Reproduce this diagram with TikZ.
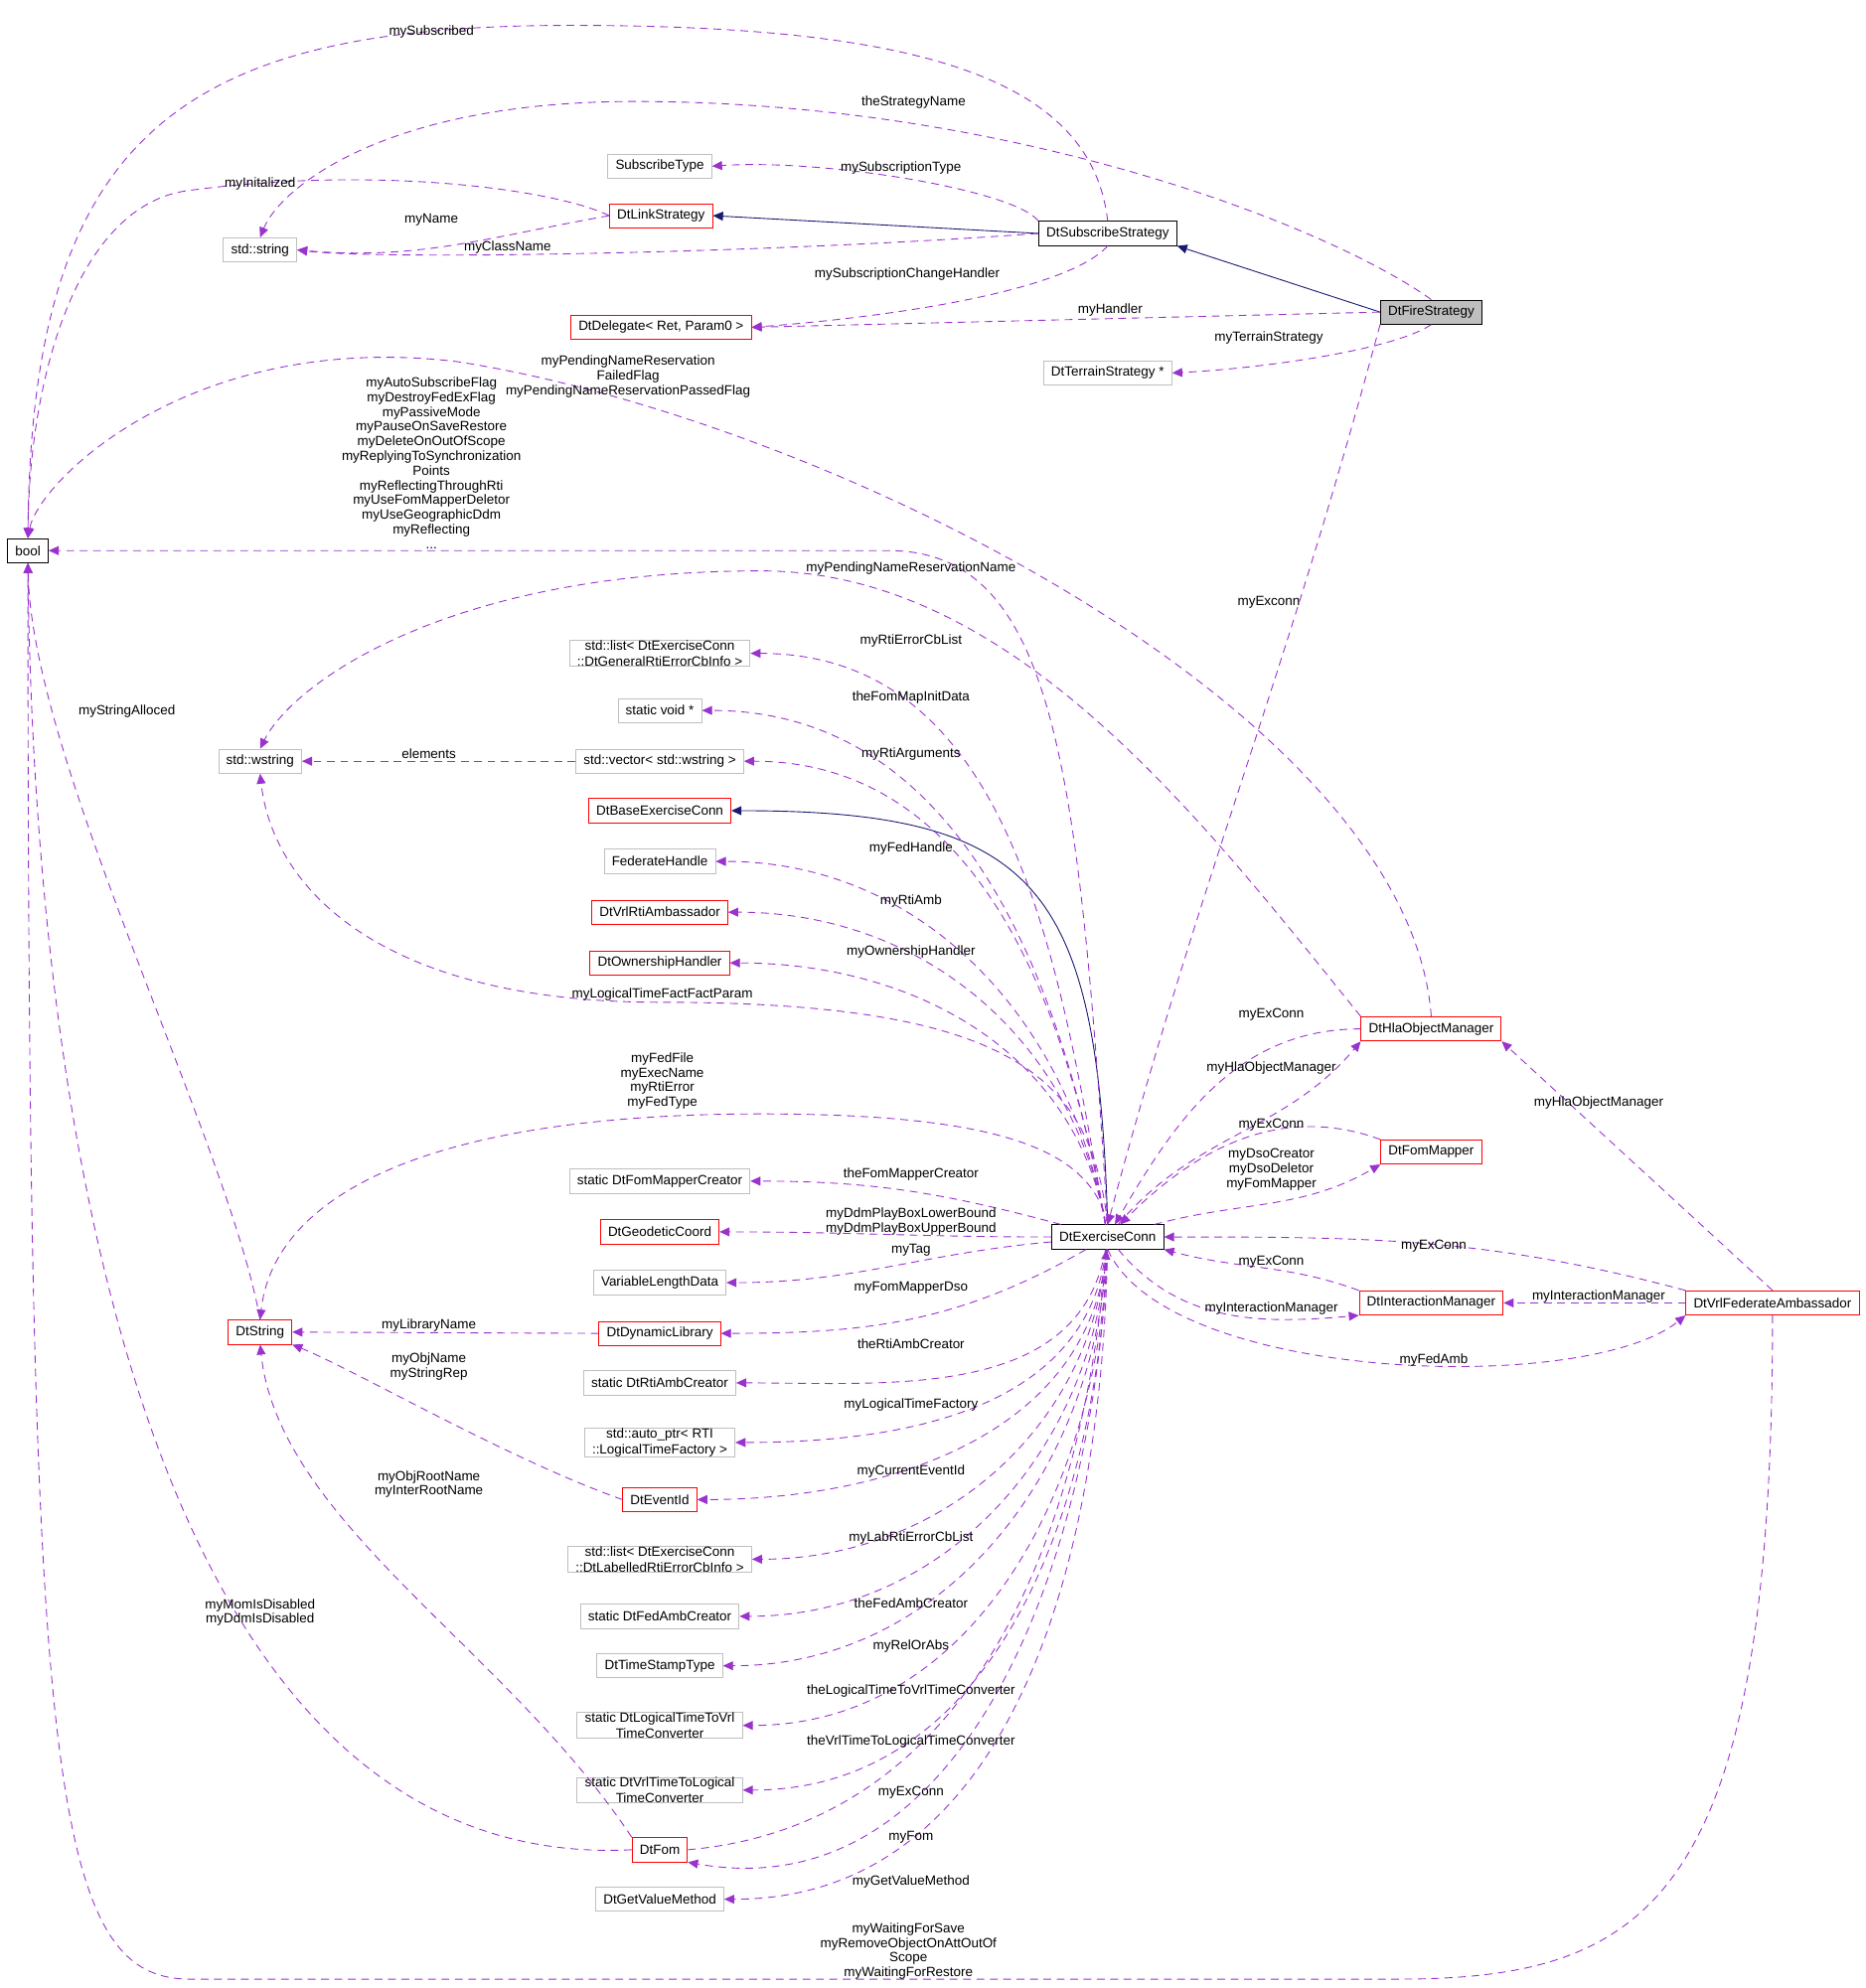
\documentclass[tikz,border=0pt]{standalone}
\usepackage{fontspec}
\setmainfont{Liberation Sans}
\usetikzlibrary{arrows.meta}
\definecolor{dep}{HTML}{9A32CD}
\definecolor{inhc}{HTML}{191970}
\definecolor{grayb}{HTML}{BFBFBF}
\tikzset{
    cls/.style={draw=black, font=\fontsize{6}{7}\selectfont, inner xsep=0.12cm, inner ysep=0pt, minimum height=0.38cm, align=center},
    red/.style={cls, draw=red},
    ext/.style={cls, draw=grayb},
    lbl/.style={font=\fontsize{6}{6.6}\selectfont, align=center, inner sep=0pt},
    dep/.style={draw=dep, dashed, dash pattern=on 3.5pt off 2.5pt, -{Triangle[length=4.5pt,width=4pt]}},
    inh/.style={draw=inhc, -{Triangle[length=4.5pt,width=4pt]}}
}
\begin{document}
\begin{tikzpicture}[x=0.02cm, y=0.02cm]
    \useasboundingbox (0,0) rectangle (1470,-1567);

    % classes
    \node[cls] (bool) at (22,-434) {bool};
    \node[ext] (str) at (205,-197) {std::string};
    \node[ext] (st) at (520,-131) {SubscribeType};
    \node[red] (ls) at (521,-170) {DtLinkStrategy};
    \node[cls] (ss) at (873,-184) {DtSubscribeStrategy};
    \node[cls, fill=grayb] (fire) at (1128,-246) {DtFireStrategy};
    \node[red] (dg) at (521,-258) {DtDelegate< Ret, Param0 >};
    \node[ext] (ts2) at (873,-294) {DtTerrainStrategy *};
    \node[ext] (gl) at (520,-515) {std::list< DtExerciseConn\\::DtGeneralRtiErrorCbInfo >};
    \node[ext] (sv) at (520,-560) {static void *};
    \node[ext] (ws) at (205,-600) {std::wstring};
    \node[ext] (vec) at (520,-600) {std::vector< std::wstring >};
    \node[red] (base) at (520,-639) {DtBaseExerciseConn};
    \node[ext] (fh) at (520,-679) {FederateHandle};
    \node[red] (ra) at (520,-719) {DtVrlRtiAmbassador};
    \node[red] (own) at (520,-759) {DtOwnershipHandler};
    \node[red] (hom) at (1128,-811) {DtHlaObjectManager};
    \node[red] (fm) at (1128,-908) {DtFomMapper};
    \node[ext] (fmc) at (520,-931) {static DtFomMapperCreator};
    \node[red] (geo) at (520,-971) {DtGeodeticCoord};
    \node[cls] (ec) at (873,-975) {DtExerciseConn};
    \node[ext] (tag) at (520,-1011) {VariableLengthData};
    \node[red] (dtstr) at (205,-1050) {DtString};
    \node[red] (dl) at (520,-1051) {DtDynamicLibrary};
    \node[red] (im) at (1128,-1027) {DtInteractionManager};
    \node[red] (vfa) at (1397,-1027) {DtVrlFederateAmbassador};
    \node[ext] (rac) at (520,-1090) {static DtRtiAmbCreator};
    \node[ext] (ap) at (520,-1137) {std::auto\_ptr< RTI\\::LogicalTimeFactory >};
    \node[red] (ev) at (520,-1182) {DtEventId};
    \node[ext] (ll) at (520,-1229) {std::list< DtExerciseConn\\::DtLabelledRtiErrorCbInfo >};
    \node[ext] (fac) at (520,-1274) {static DtFedAmbCreator};
    \node[ext] (tst) at (520,-1313) {DtTimeStampType};
    \node[ext] (l2v) at (520,-1360) {static DtLogicalTimeToVrl\\TimeConverter};
    \node[ext] (v2l) at (520,-1411) {static DtVrlTimeToLogical\\TimeConverter};
    \node[red] (fom) at (520,-1458) {DtFom};
    \node[ext] (gvm) at (520,-1497) {DtGetValueMethod};

    % inheritance
    \draw[inh] (ss.west) -- (ls.east);
    \draw[inh] (fire.west) -- (ss.south east);
    \draw[inh] (ec.north) .. controls (865,-700) and (820,-639) .. (base.east);

    % upper part
    \draw[dep] (ss.north) .. controls (860,-60) and (720,-20) .. (450,-20) .. controls (150,-20) and (25,-100) .. (bool.north);
    \draw[dep] (fire.north) .. controls (1050,-180) and (800,-80) .. (500,-80) .. controls (300,-80) and (220,-150) .. (str.north);
    \draw[dep] (ss.north west) .. controls (800,-150) and (650,-125) .. (st.east);
    \draw[dep] (ls.west) .. controls (440,-150) and (300,-130) .. (150,-150) .. controls (60,-160) and (23,-300) .. (bool.north);
    \draw[dep] (ls.west) to[out=190,in=-5] (str.east);
    \draw[dep] (ss.west) .. controls (600,-200) and (300,-205) .. (str.east);
    \draw[dep] (ss.south) .. controls (840,-230) and (700,-250) .. (dg.east);
    \draw[dep] (fire.west) -- (dg.east);
    \draw[dep] (fire.south) .. controls (1100,-275) and (1000,-290) .. (ts2.east);
    \draw[dep] (fire.south west) to[out=-105,in=75] (ec.north);
    \draw[dep] (hom.north) .. controls (1110,-560) and (650,-330) .. (360,-285) .. controls (150,-260) and (30,-380) .. (bool.north);
    \draw[dep] (hom.north west) .. controls (950,-650) and (800,-450) .. (600,-450) .. controls (350,-450) and (230,-540) .. (ws.north);
    \draw[dep] (ec.north) .. controls (850,-600) and (830,-434) .. (700,-434) -- (bool.east);
    \draw[dep] (ec.north) .. controls (860,-850) and (800,-790) .. (520,-790) .. controls (300,-790) and (215,-700) .. (ws.south);
    \draw[dep] (ec.north) .. controls (860,-910) and (800,-878) .. (600,-878) .. controls (320,-878) and (215,-950) .. (dtstr.north);
    \draw[dep] (vec.west) -- (ws.east);

    % fan out of DtExerciseConn
    \foreach \t/\o in {gl/100, sv/100, vec/100, fh/100, ra/100, own/100, fmc/165, geo/180, tag/-175,
                       dl/-150, rac/-100, ap/-97, ev/-95, ll/-95, fac/-94, tst/-93, l2v/-92, v2l/-92, gvm/-91}
        \draw[dep] (ec) to[out=\o,in=0] (\t.east);
    \draw[dep] (fom.east) to[out=5,in=-95] (ec);
    \draw[dep] (ec) to[out=-92,in=-10] (fom.south east);

    % DtString and bool
    \draw[dep] (dtstr.north) .. controls (180,-900) and (25,-600) .. (bool.south);
    \draw[dep] (dl.west) -- (dtstr.east);
    \draw[dep] (ev.west) .. controls (400,-1150) and (280,-1080) .. (dtstr.south east);
    \draw[dep] (fom.north west) .. controls (400,-1300) and (220,-1200) .. (dtstr.south);
    \draw[dep] (fom.west) .. controls (60,-1480) and (25,-700) .. (bool.south);
    \draw[dep] (vfa.south) .. controls (1397,-1500) and (1300,-1560) .. (1100,-1560) -- (150,-1560) .. controls (40,-1560) and (22,-1400) .. (bool.south);

    % right part
    \draw[dep] (hom.west) to[out=180,in=60] (ec);
    \draw[dep] (ec) to[out=50,in=-130] (hom.south west);
    \draw[dep] (fm.north west) to[out=160,in=45] (ec);
    \draw[dep] (ec) to[out=15,in=-150] (fm.south west);
    \draw[dep] (vfa.north) -- (hom.south east);
    \draw[dep] (vfa.north west) to[out=165,in=0] (ec.east);
    \draw[dep] (im.north west) to[out=160,in=-15] (ec.south east);
    \draw[dep] (ec) to[out=-50,in=185] (im.south west);
    \draw[dep] (vfa.west) -- (im.east);
    \draw[dep] (ec.south) .. controls (920,-1090) and (1250,-1100) .. (vfa.south west);

    % labels
    \node[lbl] (l1) at (340,-25) {mySubscribed};
    \node[lbl] (l2) at (720,-81) {theStrategyName};
    \node[lbl] (l3) at (710,-132) {mySubscriptionType};
    \node[lbl] (l4) at (205,-145) {myInitalized};
    \node[lbl] (l5) at (340,-173) {myName};
    \node[lbl] (l6) at (400,-195) {myClassName};
    \node[lbl] (l7) at (715,-216) {mySubscriptionChangeHandler};
    \node[lbl] (l8) at (875,-244) {myHandler};
    \node[lbl] (l9) at (1000,-266) {myTerrainStrategy};
    \node[lbl] (l10) at (1000,-475) {myExconn};
    \node[lbl] (l11) at (495,-297) {myPendingNameReservation\\FailedFlag\\myPendingNameReservationPassedFlag};
    \node[lbl] (l12) at (340,-365) {myAutoSubscribeFlag\\myDestroyFedExFlag\\myPassiveMode\\myPauseOnSaveRestore\\myDeleteOnOutOfScope\\myReplyingToSynchronization\\Points\\myReflectingThroughRti\\myUseFomMapperDeletor\\myUseGeographicDdm\\myReflecting\\...};
    \node[lbl] (l13) at (718,-448) {myPendingNameReservationName};
    \node[lbl] (l14) at (718,-505) {myRtiErrorCbList};
    \node[lbl] (l15) at (718,-550) {theFomMapInitData};
    \node[lbl] (l16) at (718,-594) {myRtiArguments};
    \node[lbl] (l17) at (338,-594) {elements};
    \node[lbl] (l18) at (100,-561) {myStringAlloced};
    \node[lbl] (l19) at (718,-669) {myFedHandle};
    \node[lbl] (l20) at (718,-710) {myRtiAmb};
    \node[lbl] (l21) at (718,-750) {myOwnershipHandler};
    \node[lbl] (l22) at (522,-784) {myLogicalTimeFactFactParam};
    \node[lbl] (l23) at (1002,-800) {myExConn};
    \node[lbl] (l24) at (1002,-842) {myHlaObjectManager};
    \node[lbl] (l25) at (1260,-869) {myHlaObjectManager};
    \node[lbl] (l26) at (522,-852) {myFedFile\\myExecName\\myRtiError\\myFedType};
    \node[lbl] (l27) at (1002,-887) {myExConn};
    \node[lbl] (l28) at (1002,-922) {myDsoCreator\\myDsoDeletor\\myFomMapper};
    \node[lbl] (l29) at (718,-926) {theFomMapperCreator};
    \node[lbl] (l30) at (718,-963) {myDdmPlayBoxLowerBound\\myDdmPlayBoxUpperBound};
    \node[lbl] (l31) at (718,-985) {myTag};
    \node[lbl] (l32) at (1130,-982) {myExConn};
    \node[lbl] (l33) at (1002,-995) {myExConn};
    \node[lbl] (l34) at (718,-1015) {myFomMapperDso};
    \node[lbl] (l35) at (1002,-1031) {myInteractionManager};
    \node[lbl] (l36) at (1260,-1022) {myInteractionManager};
    \node[lbl] (l37) at (338,-1045) {myLibraryName};
    \node[lbl] (l38) at (718,-1059) {theRtiAmbCreator};
    \node[lbl] (l39) at (1130,-1072) {myFedAmb};
    \node[lbl] (l40) at (338,-1077) {myObjName\\myStringRep};
    \node[lbl] (l41) at (718,-1107) {myLogicalTimeFactory};
    \node[lbl] (l42) at (718,-1160) {myCurrentEventId};
    \node[lbl] (l43) at (338,-1170) {myObjRootName\\myInterRootName};
    \node[lbl] (l44) at (718,-1212) {myLabRtiErrorCbList};
    \node[lbl] (l45) at (718,-1264) {theFedAmbCreator};
    \node[lbl] (l46) at (205,-1271) {myMomIsDisabled\\myDdmIsDisabled};
    \node[lbl] (l47) at (718,-1298) {myRelOrAbs};
    \node[lbl] (l48) at (718,-1333) {theLogicalTimeToVrlTimeConverter};
    \node[lbl] (l49) at (718,-1373) {theVrlTimeToLogicalTimeConverter};
    \node[lbl] (l50) at (718,-1413) {myExConn};
    \node[lbl] (l51) at (718,-1448) {myFom};
    \node[lbl] (l52) at (718,-1483) {myGetValueMethod};
    \node[lbl] (l53) at (716,-1538) {myWaitingForSave\\myRemoveObjectOnAttOutOf\\Scope\\myWaitingForRestore};
\end{tikzpicture}
\end{document}
